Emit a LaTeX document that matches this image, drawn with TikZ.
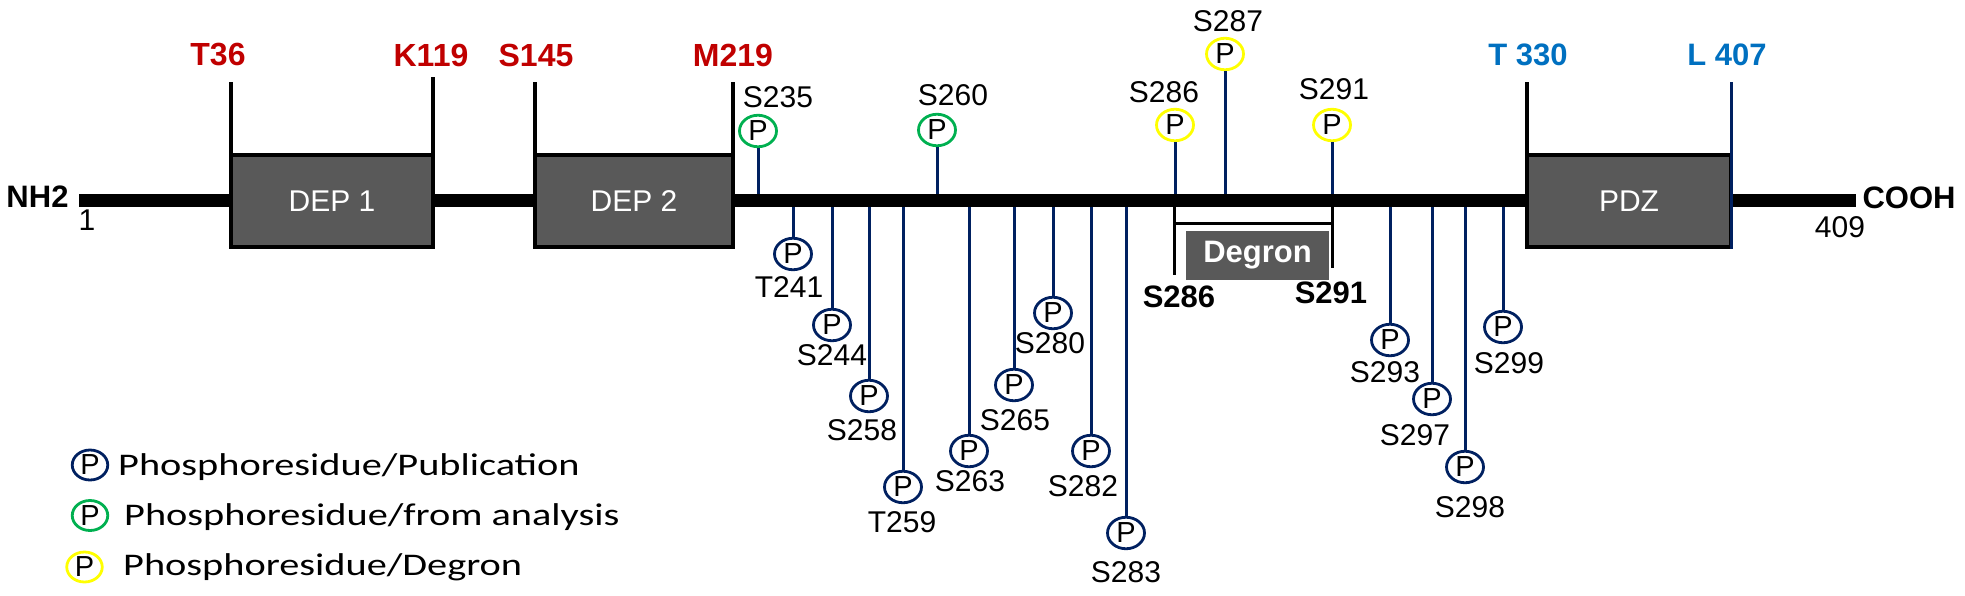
\documentclass[tikz,border=0pt]{standalone}
\usepackage{fontspec}
\setmainfont{Liberation Sans}
\newfontfamily\legendfont[FakeStretch=1.28]{Carlito}
\usetikzlibrary{shapes.geometric}
\definecolor{navyc}{RGB}{0,32,96}
\definecolor{redc}{RGB}{192,0,0}
\definecolor{bluec}{RGB}{0,112,192}
\definecolor{greenc}{RGB}{0,176,80}
\definecolor{yellowc}{RGB}{255,255,0}
\definecolor{boxc}{RGB}{89,89,89}
\begin{document}
\begin{tikzpicture}[x=1pt,y=-1pt,
  lbl/.style={font=\fontsize{30pt}{34pt}\selectfont, inner sep=0pt},
  bold lbl/.style={font=\fontsize{31pt}{34pt}\selectfont\bfseries, inner sep=0pt},
  redlbl/.style={font=\fontsize{32pt}{34pt}\selectfont\bfseries, text=redc, inner sep=0pt},
  bluelbl/.style={font=\fontsize{31pt}{34pt}\selectfont\bfseries, text=bluec, inner sep=0pt},
  ph/.style={ellipse, draw=navyc, line width=2.8pt, minimum width=37pt, minimum height=31.5pt, inner sep=0pt, font=\fontsize{29pt}{30pt}\selectfont},
  phg/.style={ph, draw=greenc},
  phy/.style={ph, draw=yellowc},
  legph/.style={minimum width=35.5pt, minimum height=30pt},
  stem/.style={draw=navyc, line width=3pt},
  dom/.style={rectangle, draw=black, line width=4pt, fill=boxc, text=white, inner sep=0pt, minimum height=92pt, font=\fontsize{30pt}{34pt}\selectfont},
  domline/.style={draw=black, line width=3.5pt},
  bracket/.style={draw=black, line width=3pt},
  legtext/.style={font=\legendfont\fontsize{31.5pt}{36pt}\selectfont, inner sep=0pt, anchor=base west}
]
\useasboundingbox (0,0) rectangle (1965,595);

% backbone coordinates for stems
\foreach \n/\x in {235/758,260/937,286/1175,287/1225,291/1332,
  241/793,244/832,258/869,259/903,263/969,265/1014,280/1053,282/1091,283/1126,
  293/1390,297/1432,298/1465,299/1503}
  \coordinate (b\n) at (\x,200);

% phospho circles above
\node[phg] (p235) at (758,131) {P};
\node[phg] (p260) at (937,130) {P};
\node[phy] (p286) at (1175,125) {P};
\node[phy] (p287) at (1225,54) {P};
\node[phy] (p291) at (1332,125) {P};
% phospho circles below
\node[ph] (p241) at (793,254) {P};
\node[ph] (p244) at (832,325) {P};
\node[ph] (p258) at (869,396) {P};
\node[ph] (p259) at (903,487) {P};
\node[ph] (p263) at (969,451) {P};
\node[ph] (p265) at (1014,385) {P};
\node[ph] (p280) at (1053,313) {P};
\node[ph] (p282) at (1091,451) {P};
\node[ph] (p283) at (1126,533) {P};
\node[ph] (p293) at (1390,340) {P};
\node[ph] (p297) at (1432,399) {P};
\node[ph] (p298) at (1465,467) {P};
\node[ph] (p299) at (1503,327) {P};

% stems
\foreach \n in {235,260,286,287,291,241,244,258,259,263,265,280,282,283,293,297,298,299}
  \draw[stem] (b\n) -- (p\n);

% backbone
\coordinate (nterm) at (79,200);
\coordinate (cterm) at (1856,200);
\draw[line width=13pt] (nterm) -- (cterm);
\node[bold lbl] (nh2) at (37.5,197) {NH2};
\node[lbl] (one) at (87,220) {1};
\node[bold lbl] (cooh) at (1909,198) {COOH};
\node[lbl] (n409) at (1840,227) {409};

% domain boxes
\node[dom, minimum width=202pt] (dep1) at (332,201) {DEP 1};
\node[dom, minimum width=198pt] (dep2) at (634,201) {DEP 2};
\node[dom, minimum width=204pt] (pdz) at (1629,201) {PDZ};

% domain boundary lines
\coordinate (t36) at (231,82);
\coordinate (k119) at (433,77);
\coordinate (s145) at (535,82);
\coordinate (m219) at (733,82);
\coordinate (t330) at (1527,82);
\coordinate (l407) at (1731,82);
\draw[domline] (t36) -- (t36 |- dep1.north);
\draw[domline] (k119) -- (k119 |- dep1.north);
\draw[domline] (s145) -- (s145 |- dep2.north);
\draw[domline] (m219) -- (m219 |- dep2.south);
\draw[domline] (t330) -- (t330 |- pdz.north);
\draw[draw=navyc, line width=3pt] (l407) -- (l407 |- pdz.south);

\node[redlbl] (lt36) at (218,55) {T36};
\node[redlbl] (lk119) at (431,55) {K119};
\node[redlbl] (ls145) at (536,55) {S145};
\node[redlbl] (lm219) at (733,55) {M219};
\node[bluelbl] (lt330) at (1528,55) {T 330};
\node[bluelbl] (ll407) at (1727,55) {L 407};

% degron
\coordinate (dgl) at (1174,275);
\coordinate (dgr) at (1332,268);
\coordinate (dgl0) at (1174,206);
\coordinate (dgr0) at (1332,206);
\draw[bracket] (dgl0) -- (dgl);
\draw[bracket] (dgr0) -- (dgr);
\draw[bracket] (dgl0 |- 0,223) -- (dgr0 |- 0,223);
\node[rectangle, fill=boxc, text=white, inner sep=0pt, minimum width=143pt, minimum height=49pt,
  font=\fontsize{31pt}{34pt}\selectfont\bfseries] (degron) at (1257.5,255.5) {Degron};
\node[bold lbl] (ds286) at (1179,297) {S286};
\node[bold lbl] (ds291) at (1331,293) {S291};

% site labels
\node[lbl] (l235) at (778,97) {S235};
\node[lbl] (l260) at (953,95) {S260};
\node[lbl] (l286) at (1164,92) {S286};
\node[lbl] (l287) at (1228,21) {S287};
\node[lbl] (l291) at (1334,89) {S291};
\node[lbl] (l241) at (789,287) {T241};
\node[lbl] (l244) at (832,355) {S244};
\node[lbl] (l258) at (862,430) {S258};
\node[lbl] (l259) at (902,522) {T259};
\node[lbl] (l263) at (970,481) {S263};
\node[lbl] (l265) at (1015,420) {S265};
\node[lbl] (l280) at (1050,343) {S280};
\node[lbl] (l282) at (1083,486) {S282};
\node[lbl] (l283) at (1126,572) {S283};
\node[lbl] (l293) at (1385,372) {S293};
\node[lbl] (l297) at (1415,435) {S297};
\node[lbl] (l298) at (1470,507) {S298};
\node[lbl] (l299) at (1509,363) {S299};

% legend
\node[ph, legph] (leg1) at (90,465) {P};
\node[legtext] (leg1t) at (118,475) {Phosphoresidue/Publication};
\node[phg, legph] (leg2) at (90,515.5) {P};
\node[legtext] (leg2t) at (124,525) {Phosphoresidue/from analysis};
\node[phy, legph] (leg3) at (84.5,567) {P};
\node[legtext] (leg3t) at (123,575) {Phosphoresidue/Degron};
\end{tikzpicture}
\end{document}
